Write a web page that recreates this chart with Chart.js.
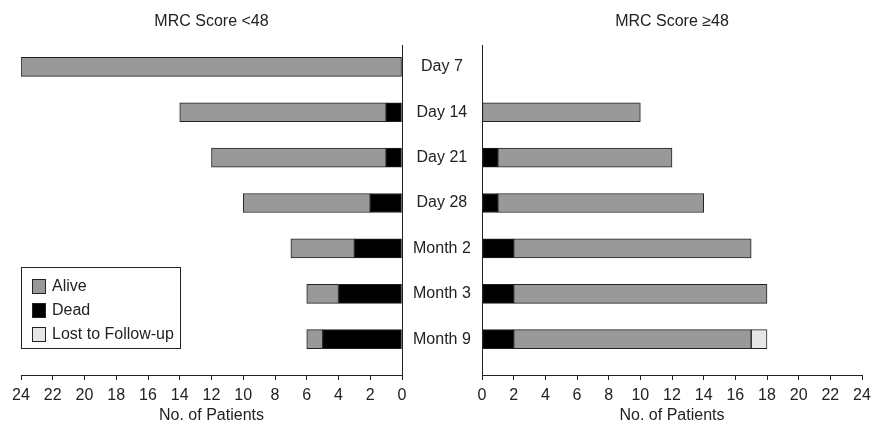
<!DOCTYPE html>
<html>
<head>
<meta charset="utf-8">
<script src="https://cdn.jsdelivr.net/npm/chart.js@4/dist/chart.umd.min.js"></script>
<style>
  body { margin: 0; background: #fff; }
  #wrap { position: relative; width: 878px; height: 424px; font-family: "Liberation Sans", Arial, Helvetica, sans-serif; color: #222; }
  canvas { position: absolute; top: 0; }
  #leftChart { left: 0; }
  #rightChart { left: 460px; }
  .legend { position: absolute; left: 21px; top: 267px; width: 158px; height: 74px; border: 1px solid #222; padding-top: 6px; box-sizing: content-box; }
  .legend .row { display: flex; align-items: center; height: 24px; font-size: 16px; }
  .legend .box { width: 12px; height: 13px; border: 1px solid #222; margin-left: 10px; margin-right: 6px; }
</style>
</head>
<body>
<div id="wrap">
  <canvas id="leftChart" width="482" height="424"></canvas>
  <canvas id="rightChart" width="418" height="424"></canvas>
  <div class="legend">
    <div class="row"><span class="box" style="background:#999"></span>Alive</div>
    <div class="row"><span class="box" style="background:#000"></span>Dead</div>
    <div class="row"><span class="box" style="background:#e6e6e6"></span>Lost to Follow-up</div>
  </div>
</div>
<script>
const categories = ['Day 7', 'Day 14', 'Day 21', 'Day 28', 'Month 2', 'Month 3', 'Month 9'];

// MRC Score <48
const lowDead = [0, 1, 1, 2, 3, 4, 5];
const lowAlive = [24, 13, 11, 8, 4, 2, 1];
const lowLost = [0, 0, 0, 0, 0, 0, 0];

// MRC Score >=48
const highDead = [0, 0, 1, 1, 2, 2, 2];
const highAlive = [0, 10, 11, 13, 15, 16, 15];
const highLost = [0, 0, 0, 0, 0, 0, 1];

const xTicks = [0, 2, 4, 6, 8, 10, 12, 14, 16, 18, 20, 22, 24];

const FONT = '"Liberation Sans", Arial, Helvetica, sans-serif';
const TEXT = '#222';

function toPoints(arr) {
  return arr.map((v, i) => ({ x: v, y: i }));
}

function makeDatasets(dead, alive, lost) {
  const common = { stack: 's', barThickness: 19, borderWidth: 1, borderColor: '#222', borderSkipped: false };
  return [
    { label: 'Dead', data: toPoints(dead), backgroundColor: '#000', ...common },
    { label: 'Alive', data: toPoints(alive), backgroundColor: '#999', ...common },
    { label: 'Lost to Follow-up', data: toPoints(lost), backgroundColor: '#e6e6e6', ...common },
  ];
}

function makeOptions(title, isLeft) {
  return {
    indexAxis: 'y',
    responsive: false,
    animation: false,
    layout: { padding: isLeft ? { left: 21, right: 0, top: 0, bottom: 0 } : { left: 22, right: 16, top: 0, bottom: 0 } },
    plugins: {
      legend: { display: false },
      tooltip: { enabled: false },
      title: {
        display: true,
        text: title,
        fullSize: false,
        color: TEXT,
        font: { family: FONT, size: 16, weight: 'normal', lineHeight: 1.2 },
        padding: { top: 12, bottom: 14 },
      },
    },
    scales: {
      x: {
        type: 'linear',
        stacked: true,
        reverse: isLeft,
        min: 0,
        max: 24,
        afterBuildTicks: (s) => { s.ticks = xTicks.map((v) => ({ value: v })); },
        afterFit: (s) => { s.height = 49; },
        grid: { drawOnChartArea: false, drawTicks: true, tickLength: 5, color: '#222' },
        border: { display: true, color: '#222', width: 1 },
        ticks: { color: TEXT, padding: 6, font: { family: FONT, size: 16 }, maxRotation: 0 },
        title: {
          display: true,
          text: 'No. of Patients',
          color: TEXT,
          font: { family: FONT, size: 16, lineHeight: 1.0 },
          padding: { top: 0, bottom: 0 },
        },
      },
      y: {
        type: 'linear',
        position: isLeft ? 'right' : 'left',
        reverse: true,
        offset: false,
        min: -0.478,
        max: 6.789,
        afterBuildTicks: (s) => { s.ticks = categories.map((c, i) => ({ value: i })); },
        afterFit: (s) => { s.width = isLeft ? 80 : 0; },
        grid: { display: false, drawTicks: false, offset: false },
        border: { display: true, color: '#222', width: 1 },
        ticks: {
          display: isLeft,
          color: TEXT,
          padding: 11,
          crossAlign: 'center',
          font: { family: FONT, size: 16 },
          callback: (v) => categories[v],
        },
      },
    },
  };
}

new Chart(document.getElementById('leftChart').getContext('2d'), {
  type: 'bar',
  data: { datasets: makeDatasets(lowDead, lowAlive, lowLost) },
  options: makeOptions('MRC Score <48', true),
});

new Chart(document.getElementById('rightChart').getContext('2d'), {
  type: 'bar',
  data: { datasets: makeDatasets(highDead, highAlive, highLost) },
  options: makeOptions('MRC Score \u226548', false),
});
</script>
</body>
</html>
